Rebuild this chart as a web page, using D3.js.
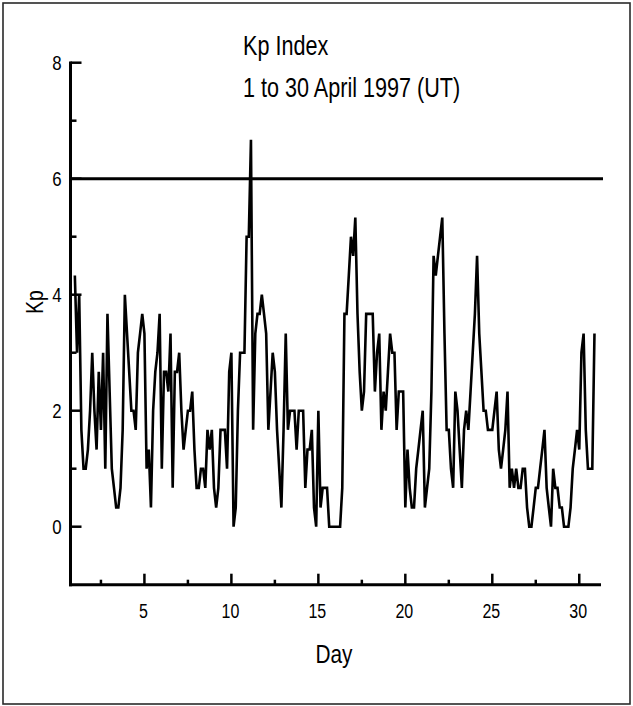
<!DOCTYPE html>
<html>
<head>
<meta charset="utf-8">
<script src="https://cdn.jsdelivr.net/npm/d3@7"></script>
<style>
  body { margin: 0; background: #fff; }
  svg { display: block; }
</style>
</head>
<body>
<div id="chart"></div>
<script>
// ── Kp index, 3-hourly values (8 per day)
const kpDays1to10 = [
  4.33, 3.0, 4.0, 1.67, 1.0, 1.0, 1.33, 2.0,
  3.0, 2.0, 1.33, 2.67, 1.67, 3.0, 1.0, 3.67,
  2.33, 1.0, 0.67, 0.33, 0.33, 0.67, 1.67, 4.0,
  3.33, 2.67, 2.0, 2.0, 1.67, 3.0, 3.33, 3.67,
  3.33, 1.0, 1.33, 0.33, 2.0, 2.67, 3.0, 3.67,
  1.0, 2.67, 2.67, 2.33, 3.33, 0.67, 2.67, 2.67,
  3.0, 2.0, 1.33, 1.67, 2.0, 2.0, 2.33, 1.33,
  0.67, 0.67, 1.0, 1.0, 0.67, 1.67, 1.33, 1.67,
  0.67, 0.33, 0.67, 1.67, 1.67, 1.67, 1.0, 2.67,
  3.0, 0.0, 0.33, 2.0, 3.0, 3.0, 3.0, 5.0
];
const kpDays11to20 = [
  5.0, 6.67, 1.67, 3.33, 3.67, 3.67, 4.0, 3.67,
  3.33, 1.67, 2.33, 3.0, 2.67, 1.67, 1.0, 0.33,
  1.67, 3.33, 1.67, 2.0, 2.0, 2.0, 1.33, 2.0,
  2.0, 2.0, 0.67, 1.33, 1.33, 1.67, 0.33, 0.0,
  2.0, 0.33, 0.67, 0.67, 0.67, 0.0, 0.0, 0.0,
  0.0, 0.0, 0.0, 0.67, 3.67, 3.67, 4.33, 5.0,
  4.67, 5.33, 3.67, 2.67, 2.0, 2.33, 3.67, 3.67,
  3.67, 3.67, 2.33, 3.0, 3.33, 1.67, 2.33, 2.0,
  2.67, 3.33, 3.0, 3.0, 1.67, 2.33, 2.33, 2.33,
  0.33, 1.33, 0.67, 0.33, 0.33, 1.0, 1.33, 1.67
];
const kpDays21to30 = [
  2.0, 0.33, 0.67, 1.0, 2.33, 4.67, 4.33, 4.67,
  5.0, 5.33, 3.33, 1.67, 1.67, 1.0, 0.67, 2.33,
  2.0, 1.33, 0.67, 1.67, 2.0, 1.67, 2.33, 3.0,
  3.67, 4.67, 3.33, 2.67, 2.0, 2.0, 1.67, 1.67,
  1.67, 2.0, 2.33, 1.33, 1.0, 1.33, 1.67, 2.33,
  0.67, 1.0, 0.67, 1.0, 0.67, 0.67, 1.0, 1.0,
  0.33, 0.0, 0.0, 0.33, 0.67, 0.67, 1.0, 1.33,
  1.67, 0.67, 0.33, 0.0, 1.0, 0.67, 0.67, 0.33,
  0.33, 0.0, 0.0, 0.0, 0.33, 1.0, 1.33, 1.67,
  1.33, 3.0, 3.33, 1.67, 1.0, 1.0, 1.0, 3.33
];

const xMajorTicks = [5, 10, 15, 20, 25, 30];
const xMinorTicks = [2.5, 7.5, 12.5, 17.5, 22.5, 27.5];
const yMajorTicks = [0, 2, 4, 6, 8];
const yMinorTicks = [1, 3, 5, 7];
const stormLevel = 6;
const titleLines = ['Kp Index', '1 to 30 April 1997 (UT)'];

// ── Layout
const W = 633, H = 706;
const FONT = '"Liberation Sans", Arial, sans-serif';
const SQUEEZE = 0.8;   // original lettering is tall and narrow

const kp = kpDays1to10.concat(kpDays11to20, kpDays21to30);
const series = kp.map((v, i) => ({ day: 1 + i / 8, kp: v }));

const x = d3.scaleLinear().domain([0.75, 31.25]).range([70.5, 601]);
const y = d3.scaleLinear().domain([-1, 8]).range([584.7, 62.7]);

const svg = d3.select('#chart').append('svg')
  .attr('width', W).attr('height', H);

// condensed text helper
function label(g, tx, ty, str, size, anchor, rot) {
  return g.append('text')
    .attr('transform', `translate(${tx},${ty})${rot ? ` rotate(${rot})` : ''} scale(${SQUEEZE},1)`)
    .attr('text-anchor', anchor || 'start')
    .attr('font-family', FONT).attr('font-size', size + 'px')
    .attr('fill', '#000')
    .text(str);
}

// frame
svg.append('rect')
  .attr('x', 3).attr('y', 3).attr('width', W - 6).attr('height', H - 5)
  .attr('fill', '#fff').attr('stroke', '#2a2a2a').attr('stroke-width', 1.6);

// title
titleLines.forEach((t, i) => label(svg, 243, 55 + i * 42, t, 27, 'start'));

// ── Y axis
const yAxis = svg.append('g').attr('transform', `translate(${x.range()[0]},0)`);
yAxis.append('line')
  .attr('x1', 0).attr('x2', 0).attr('y1', y(8) - 1.2).attr('y2', y(-1) + 1.5)
  .attr('stroke', '#000').attr('stroke-width', 3);
yAxis.selectAll('.ymaj').data(yMajorTicks).enter().append('line')
  .attr('x1', 0).attr('x2', 11).attr('y1', d => y(d)).attr('y2', d => y(d))
  .attr('stroke', '#000').attr('stroke-width', 2.5);
yAxis.selectAll('.ymin').data(yMinorTicks).enter().append('line')
  .attr('x1', 0).attr('x2', 6).attr('y1', d => y(d)).attr('y2', d => y(d))
  .attr('stroke', '#000').attr('stroke-width', 2.5);
yMajorTicks.forEach(d => label(yAxis, -9, y(d) + 7.5, String(d), 21, 'end'));

label(svg, 43, 302, 'Kp', 24, 'middle', -90);

// ── X axis
const xAxis = svg.append('g').attr('transform', `translate(0,${y(-1)})`);
xAxis.append('line')
  .attr('x1', x.range()[0] - 1.5).attr('x2', x.range()[1])
  .attr('y1', 0).attr('y2', 0)
  .attr('stroke', '#000').attr('stroke-width', 3);
xAxis.selectAll('.xmaj').data(xMajorTicks).enter().append('line')
  .attr('x1', d => x(d)).attr('x2', d => x(d)).attr('y1', 0).attr('y2', -11)
  .attr('stroke', '#000').attr('stroke-width', 2.5);
xAxis.selectAll('.xmin').data(xMinorTicks).enter().append('line')
  .attr('x1', d => x(d)).attr('x2', d => x(d)).attr('y1', 0).attr('y2', -5)
  .attr('stroke', '#000').attr('stroke-width', 2.5);
xMajorTicks.forEach(d => label(xAxis, x(d) - 1, 33, String(d), 20, 'middle'));

label(svg, 334, 663, 'Day', 26, 'middle');

// ── Kp = 6 reference line
svg.append('line')
  .attr('x1', x.range()[0]).attr('x2', x.range()[1] + 2)
  .attr('y1', y(stormLevel)).attr('y2', y(stormLevel))
  .attr('stroke', '#000').attr('stroke-width', 3);

// ── Kp trace
const line = d3.line().x(d => x(d.day)).y(d => y(d.kp));
svg.append('path')
  .datum(series)
  .attr('d', line)
  .attr('fill', 'none')
  .attr('stroke', '#000')
  .attr('stroke-width', 2.6)
  .attr('stroke-linejoin', 'miter');
</script>
</body>
</html>
